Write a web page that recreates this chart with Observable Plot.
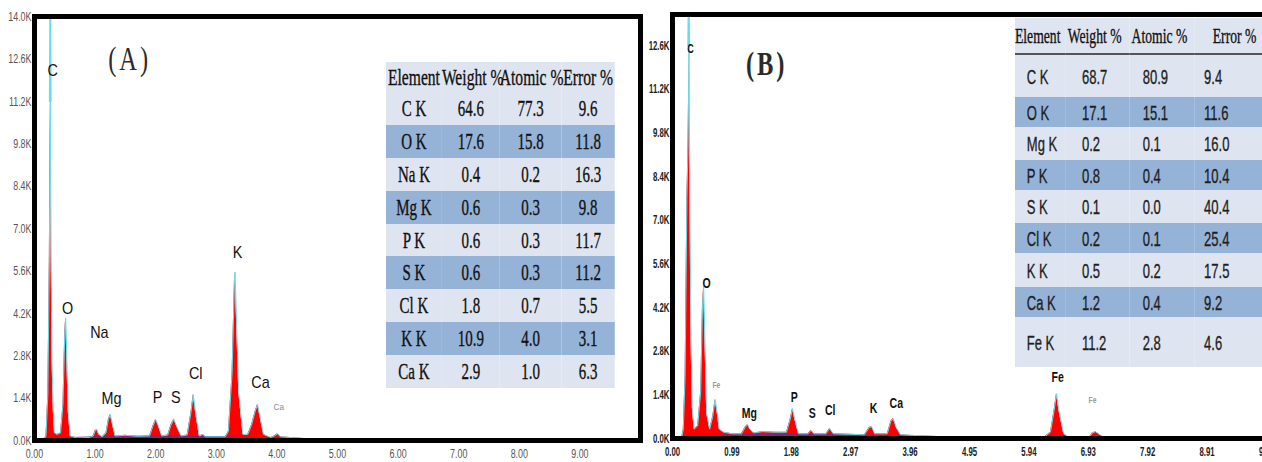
<!DOCTYPE html>
<html><head><meta charset="utf-8">
<script src="https://cdn.jsdelivr.net/npm/d3@7"></script>
<script src="https://cdn.jsdelivr.net/npm/@observablehq/plot@0.6"></script>
<style>
html,body{margin:0;padding:0;background:#fff;}
#root{position:relative;width:1262px;height:462px;overflow:hidden;background:#fff;}
#pa{position:absolute;left:0;top:0;width:650px;height:462px;}
#pb{position:absolute;left:640px;top:0;width:640px;height:462px;}
#pa svg,#pb svg{max-width:none !important;height:462px !important;overflow:visible;}
table.t{position:absolute;border-collapse:collapse;transform-origin:0 0;table-layout:fixed;}
table.t td{padding:0;white-space:nowrap;line-height:1;-webkit-text-stroke:0.35px currentColor;}
#ta{left:386px;top:62px;transform:scale(0.65,1);font-family:"Liberation Serif","Times New Roman",serif;color:#111;}
#ta td{text-align:center;font-size:23px;}
#ta tr.h td{font-size:24px;height:30px;}
#ta tr.d td{height:32.9px;}
#tb{left:1015px;top:18px;transform:scale(0.62,1);font-family:"Liberation Sans",Arial,sans-serif;color:#1e1e1e;}
#tb td{text-align:left;font-size:21px;}
#tb tr.h td{font-family:"Liberation Serif","Times New Roman",serif;font-size:22px;height:35px;border-bottom:2px solid #555;color:#111;}
.light{background:#dfe5f0;}
.dark{background:#95b3d7;}
</style>
</head><body>
<div id="root"><div id="pa"></div><div id="pb"></div></div>
<script>
// ---------- Panel A data (energy keV, counts in K) ----------
const spectrumA = [
 [0.00,0],[0.15,0],[0.19,0.15],[0.22,1.5],[0.245,6.0],[0.26,11.2],[0.275,6.0],[0.29,2.6],[0.31,1.0],[0.33,0.25],
 [0.37,0.2],[0.43,0.25],[0.47,1.2],[0.50,3.6],[0.515,4.05],[0.53,3.0],[0.555,1.0],[0.59,0.15],[0.7,0.08],[0.9,0.1],
 [0.97,0.15],[1.0,0.32],[1.03,0.36],[1.06,0.2],[1.12,0.12],[1.18,0.25],[1.22,0.7],[1.25,0.86],[1.28,0.6],[1.33,0.15],
 [1.5,0.17],[1.7,0.14],[1.9,0.15],[1.95,0.45],[2.0,0.7],[2.05,0.45],[2.1,0.15],[2.2,0.18],[2.25,0.5],[2.3,0.7],
 [2.35,0.45],[2.42,0.15],[2.52,0.18],[2.58,0.9],[2.62,1.52],[2.66,0.9],[2.72,0.15],[2.78,0.2],[2.82,0.12],[3.15,0.12],
 [3.2,0.3],[3.26,2.2],[3.3,5.3],[3.31,5.56],[3.33,4.2],[3.37,1.6],[3.44,0.2],[3.52,0.2],[3.58,0.5],[3.64,0.95],
 [3.68,1.19],[3.72,0.8],[3.78,0.2],[3.9,0.1],[3.96,0.15],[4.01,0.22],[4.06,0.12],[4.5,0.06],[6.0,0.04],[10,0.03]
];
const cyanSpikeA = [[0.25,11.2],[0.26,15],[0.27,11.2]];
const continuumA = [[0.1,0],[0.3,0.08],[0.6,0.1],[1.0,0.12],[2.0,0.14],[3.0,0.13],[3.5,0.1],[4.2,0.08],[4.6,0.03],[6.0,0.02],[10,0.02]];
const peakLabelsA = [
 {el:"C",e:0.30,c:12.2,size:16},{el:"O",e:0.545,c:4.33,size:16},{el:"Na",e:1.07,c:3.57,size:16},
 {el:"Mg",e:1.27,c:1.39,size:16},{el:"P",e:2.03,c:1.42,size:16},{el:"S",e:2.33,c:1.42,size:16},
 {el:"Cl",e:2.66,c:2.21,size:16},{el:"K",e:3.35,c:6.2,size:16},{el:"Ca",e:3.73,c:1.91,size:16},
 {el:"Ca",e:4.03,c:1.09,size:9,col:"#888"}
];
const panelTagA = [{tag:"(A)",e:1.57,c:12.6}];
const xTicksA = [0,1,2,3,4,5,6,7,8,9];
const yTicksA = [0,1.4,2.8,4.2,5.6,7.0,8.4,9.8,11.2,12.6,14.0];
const headerA = ["Element","Weight %","Atomic %","Error %"];
const elementsA = ["C K","O K","Na K","Mg K","P K","S K","Cl K","K K","Ca K"];
const weightA = ["64.6","17.6","0.4","0.6","0.6","0.6","1.8","10.9","2.9"];
const atomicA = ["77.3","15.8","0.2","0.3","0.3","0.3","0.7","4.0","1.0"];
const errorA = ["9.6","11.8","16.3","9.8","11.7","11.2","5.5","3.1","6.3"];

// ---------- Panel B data ----------
const spectrumB = [
 [0,0],[0.15,0],[0.18,0.3],[0.21,2.0],[0.24,7.7],[0.26,9.5],[0.275,12.6],[0.29,7.7],[0.31,3.0],[0.33,1.0],
 [0.36,0.3],[0.42,0.4],[0.47,1.5],[0.50,4.3],[0.52,4.88],[0.54,3.2],[0.57,0.8],[0.62,0.3],[0.67,0.7],[0.71,1.25],
 [0.74,0.9],[0.78,0.3],[0.85,0.2],[1.0,0.15],[1.15,0.15],[1.21,0.35],[1.25,0.45],[1.29,0.3],[1.35,0.18],[1.5,0.22],
 [1.7,0.2],[1.9,0.2],[1.96,0.6],[2.0,0.96],[2.04,0.6],[2.1,0.15],[2.26,0.15],[2.31,0.26],[2.36,0.15],[2.56,0.15],
 [2.62,0.32],[2.68,0.15],[3.2,0.12],[3.28,0.35],[3.32,0.38],[3.37,0.15],[3.58,0.15],[3.64,0.55],[3.68,0.64],[3.73,0.35],
 [3.8,0.12],[4.0,0.1],[4.5,0.06],[6.2,0.05],[6.3,0.2],[6.36,0.9],[6.40,1.44],[6.44,0.9],[6.52,0.15],[6.6,0.05],
 [6.95,0.05],[7.0,0.18],[7.05,0.22],[7.1,0.15],[7.18,0.05],[10,0.03]
];
const cyanSpikeB = [[0.26,12.6],[0.27,14.5],[0.28,12.6]];
const continuumB = [[0.3,0.05],[0.6,0.1],[1.0,0.12],[2.0,0.14],[3.0,0.12],[4.0,0.08],[4.5,0.04],[6.0,0.03],[10,0.03]];
const peakLabelsB = [
 {el:"C",e:0.30,c:12.5,size:12,w:"bold",col:"#111"},{el:"O",e:0.57,c:4.97,size:14,w:"bold",col:"#111"},
 {el:"Fe",e:0.73,c:1.7,size:9,w:"normal",col:"#999"},{el:"Mg",e:1.28,c:0.8,size:14,w:"bold",col:"#111"},
 {el:"P",e:2.03,c:1.31,size:14,w:"bold",col:"#111"},{el:"S",e:2.33,c:0.8,size:14,w:"bold",col:"#111"},
 {el:"Cl",e:2.63,c:0.9,size:14,w:"bold",col:"#111"},{el:"K",e:3.35,c:0.96,size:14,w:"bold",col:"#111"},
 {el:"Ca",e:3.73,c:1.12,size:14,w:"bold",col:"#111"},{el:"Fe",e:6.42,c:1.96,size:14,w:"bold",col:"#111"},
 {el:"Fe",e:7.0,c:1.22,size:9,w:"normal",col:"#999"}
];
const panelTagB = [{tag:"(B)",e:1.57,c:12.0}];
const xTicksB = [0,0.99,1.98,2.97,3.96,4.95,5.94,6.93,7.92,8.91,9.9];
const yTicksB = [0,1.4,2.8,4.2,5.6,7.0,8.4,9.8,11.2,12.6];
const headerB = ["Element","Weight %","Atomic %","Error %"];
const elementsB = ["C K","O K","Mg K","P K","S K","Cl K","K K","Ca K","Fe K"];
const weightB = ["68.7","17.1","0.2","0.8","0.1","0.2","0.5","1.2","11.2"];
const atomicB = ["80.9","15.1","0.1","0.4","0.0","0.1","0.2","0.4","2.8"];
const errorB = ["9.4","11.6","16.0","10.4","40.4","25.4","17.5","9.2","4.6"];

// ---------- helpers ----------
const pts = arr => arr.map(([e,c]) => ({e,c}));
const RED = "#ff0000", CYAN = "#66dde8", PURPLE = "#6a2a8c";
const tickFont = "'Liberation Sans',Arial,sans-serif";

function condense(svg, sel, sx, sy){
  svg.querySelectorAll(sel).forEach(t => {
    const tr = t.getAttribute("transform");
    if (tr) t.setAttribute("transform", tr + ` scale(${sx},${sy})`);
  });
}

function spectrumPlot(o){
  const svg = Plot.plot({
    width:o.width, height:462,
    marginLeft:o.ml, marginRight:o.mr, marginTop:o.mt, marginBottom:o.mb,
    x:{domain:[0,10], ticks:o.xTicks, tickFormat:d=>d.toFixed(2), tickSize:0, tickPadding:o.xPad, label:null},
    y:{domain:o.yDomain, ticks:o.yTicks, tickFormat:d=>d.toFixed(1)+"K", tickSize:0, tickPadding:3, label:null},
    style:{fontFamily:tickFont, fontSize:o.tickSize+"px", color:o.tickColor, fontWeight:o.tickWeight, background:"transparent", overflow:"visible"},
    marks:[
      Plot.areaY(pts(o.spec), {x:"e", y:"c", fill:RED, clip:true}),
      Plot.areaY(pts(o.cont), {x:"e", y:"c", fill:PURPLE, fillOpacity:0.85, clip:true}),
      Plot.lineY(pts(o.spec), {x:"e", y:"c", stroke:CYAN, strokeWidth:1, clip:true}),
      Plot.lineY(pts(o.spike), {x:"e", y:"c", stroke:CYAN, strokeWidth:1.6, clip:true}),
      Plot.text(o.labels, {x:"e", y:"c", text:"el", fontSize:d=>d.size, fill:d=>d.col||"#111",
        fontWeight:d=>d.w||"normal", fontFamily:o.labelFont}),
      Plot.text(o.tag, {x:"e", y:"c", text:"tag", fontSize:34, fill:"#2a2a2a",
        fontFamily:"'Liberation Serif','Times New Roman',serif"}),
      Plot.frame({stroke:"#000", strokeWidth:5})
    ]
  });
  condense(svg, 'g[aria-label$="tick label"] text', o.tickScale, 1);
  svg.querySelectorAll("text").forEach(t => {
    if (/^\([AB]\)$/.test(t.textContent)) {
      const tr = t.getAttribute("transform");
      if (tr) t.setAttribute("transform", tr + " scale(0.72,1)");
      t.setAttribute("letter-spacing", "4px");
    }
  });
  if (o.labelScale !== 1) {
    svg.querySelectorAll('g[aria-label="text"] text').forEach(t => {
      if (/^\(/.test(t.textContent)) return;
      const tr = t.getAttribute("transform");
      if (tr) t.setAttribute("transform", tr + ` scale(${o.labelScale},1)`);
    });
  }
  return svg;
}

document.getElementById("pa").append(spectrumPlot({
  width:650, ml:34, mr:10, mt:16, mb:22, xTicks:xTicksA, yDomain:[0,14], yTicks:yTicksA,
  tickSize:13.5, tickColor:"#555", tickWeight:"normal", tickScale:0.66, labelScale:0.9, xPad:8,
  spec:spectrumA, cont:continuumA, spike:cyanSpikeA, labels:peakLabelsA, tag:panelTagA,
  labelFont:"'Liberation Sans',Arial,sans-serif"
}));
document.getElementById("pb").append(spectrumPlot({
  width:640, ml:32, mr:8, mt:14, mb:24, xTicks:xTicksB, yDomain:[0,13.6], yTicks:yTicksB,
  tickSize:13, tickColor:"#222", tickWeight:"bold", tickScale:0.6, labelScale:0.75, xPad:8,
  spec:spectrumB, cont:continuumB, spike:cyanSpikeB, labels:peakLabelsB, tag:panelTagB,
  labelFont:tickFont
}));

// ---------- tables ----------
function buildTable(id, header, cols, widths, rowHeights, pads, headPads){
  const t = document.createElement("table");
  t.className = "t"; t.id = id;
  const cg = document.createElement("colgroup");
  widths.forEach(w => { const c = document.createElement("col"); c.style.width = w+"px"; cg.append(c); });
  t.append(cg);
  const tw = widths.reduce((a,b)=>a+b,0);
  t.style.width = tw+"px";
  const hr = document.createElement("tr"); hr.className = "h light";
  header.forEach((h,i) => { const td = document.createElement("td"); td.textContent = h;
    if (headPads) td.style.paddingLeft = headPads[i]+"px"; hr.append(td); });
  t.append(hr);
  cols[0].forEach((_,r) => {
    const tr = document.createElement("tr");
    tr.className = "d " + (r % 2 === 0 ? "light" : "dark");
    if (rowHeights) tr.style.height = rowHeights[r]+"px";
    cols.forEach((col,i) => { const td = document.createElement("td"); td.textContent = col[r];
      if (pads) td.style.paddingLeft = pads[i]+"px";
      if (rowHeights) td.style.height = rowHeights[r]+"px";
      tr.append(td); });
    t.append(tr);
  });
  document.getElementById("root").append(t);
}
buildTable("ta", headerA, [elementsA, weightA, atomicA, errorA], [86,89,95,82]);
buildTable("tb", headerB, [elementsB, weightB, atomicB, errorB], [82,103,105,129],
  [42,30,33,30,33,30,34,30,50], [19,26,21,15], [0,3,3,29]);
</script>
</body></html>
